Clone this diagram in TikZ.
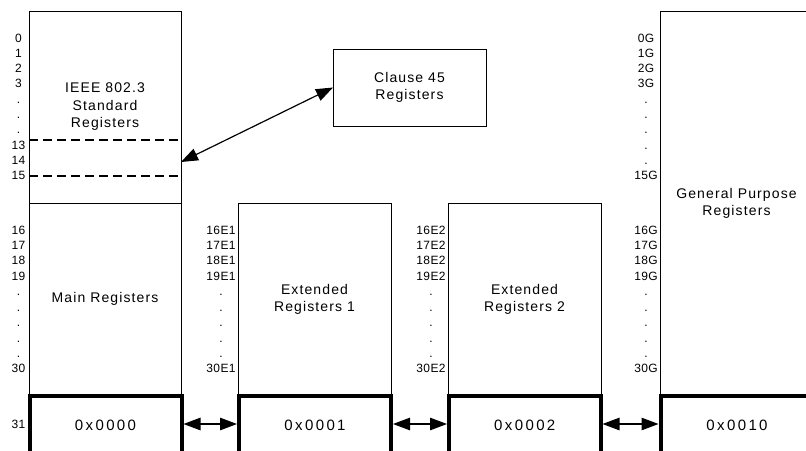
\documentclass[tikz,border=0pt]{standalone}
\usepackage{fontspec}
\setmainfont{Liberation Sans}
\newfontfamily\lblfont[LetterSpace=3]{Liberation Sans}
\newfontfamily\txtfont[LetterSpace=8]{Liberation Sans}
\newfontfamily\hexfont[LetterSpace=16]{Liberation Sans}
\usetikzlibrary{arrows.meta}
\begin{document}
\begin{tikzpicture}[x=1pt,y=-1pt,
  regbox/.style={draw, line width=0.9pt, inner sep=0pt, outer sep=0pt, anchor=north west,
    align=center, font={\txtfont\fontsize{14}{17.5}\selectfont}},
  hexbox/.style={draw, line width=4pt, inner sep=0pt, outer sep=2pt, minimum height=62pt,
    font={\hexfont\fontsize{15}{18}\selectfont}},
  lbl/.style={inner sep=0pt, anchor=base, font={\lblfont\fontsize{12}{14}\selectfont}},
  dashline/.style={line width=1.8pt, dash pattern=on 9pt off 5pt},
  biarrow/.style={line width=1.2pt, {Triangle[length=17pt,width=12.5pt]}-{Triangle[length=17pt,width=12.5pt]}}]
\useasboundingbox (0,0) rectangle (806,450);
\clip (0,0) rectangle (806,450);

% register boxes
\node[regbox, minimum width=152pt, minimum height=192pt] (std) at (29,11) {IEEE 802.3\\Standard\\Registers};
\node[regbox, minimum width=152pt, minimum height=192pt] (main) at (29,203) {Main Registers};
\node[regbox, minimum width=153pt, minimum height=193pt] (ext1) at (238,203) {Extended\\Registers 1};
\node[regbox, minimum width=153pt, minimum height=193pt] (ext2) at (448,203) {Extended\\Registers 2};
\node[regbox, minimum width=153pt, minimum height=385pt] (gp) at (660,11) {General Purpose\\Registers};
\node[regbox, minimum width=153pt, minimum height=77pt] (clause) at (333,49) {Clause 45\\Registers};

% page boxes (top edge at y=396, bottom edge falls outside the picture)
\node[hexbox, minimum width=152pt] (hex0) at (105.5,427) {\raisebox{3pt}{0x0000}};
\node[hexbox, minimum width=152pt] (hex1) at (315,427) {\raisebox{3pt}{0x0001}};
\node[hexbox, minimum width=151.5pt] (hex2) at (524.75,427) {\raisebox{3pt}{0x0002}};
\node[hexbox, minimum width=153pt] (hex3) at (737,427) {\raisebox{3pt}{0x0010}};

% dashed separators
\coordinate (d1) at (0,140);
\coordinate (d2) at (0,176);
\draw[dashline] (std.west |- d1) -- (std.east |- d1);
\draw[dashline] (std.west |- d2) -- (std.east |- d2);

% connectors
\coordinate (c14) at (0,162);
\coordinate (ca) at (0,424);
\draw[biarrow] (std.east |- c14) -- (clause.west);
\draw[biarrow] (hex0.east |- ca) -- (hex1.west |- ca);
\draw[biarrow] (hex1.east |- ca) -- (hex2.west |- ca);
\draw[biarrow] (hex2.east |- ca) -- (hex3.west |- ca);

% labels upper
\foreach \t [count=\i from 0] in {0,1,2,3,.,.,.,13,14,15}
  \node[lbl] (ua\i) at (18.5,42+15.3*\i) {\t};
\foreach \t [count=\i from 0] in {0G,1G,2G,3G,.,.,.,.,.,15G}
  \node[lbl] (ug\i) at (646,42+15.3*\i) {\t};
% labels lower
\foreach \t [count=\i from 0] in {16,17,18,19,.,.,.,.,.,30}
  \node[lbl] (la\i) at (18.5,234+15.44*\i) {\t};
\foreach \t [count=\i from 0] in {16E1,17E1,18E1,19E1,.,.,.,.,.,30E1}
  \node[lbl] (lb\i) at (221,234+15.44*\i) {\t};
\foreach \t [count=\i from 0] in {16E2,17E2,18E2,19E2,.,.,.,.,.,30E2}
  \node[lbl] (lc\i) at (431,234+15.44*\i) {\t};
\foreach \t [count=\i from 0] in {16G,17G,18G,19G,.,.,.,.,.,30G}
  \node[lbl] (lg\i) at (646,234+15.44*\i) {\t};
\node[lbl] (l31) at (18.5,428) {31};
\end{tikzpicture}
\end{document}
